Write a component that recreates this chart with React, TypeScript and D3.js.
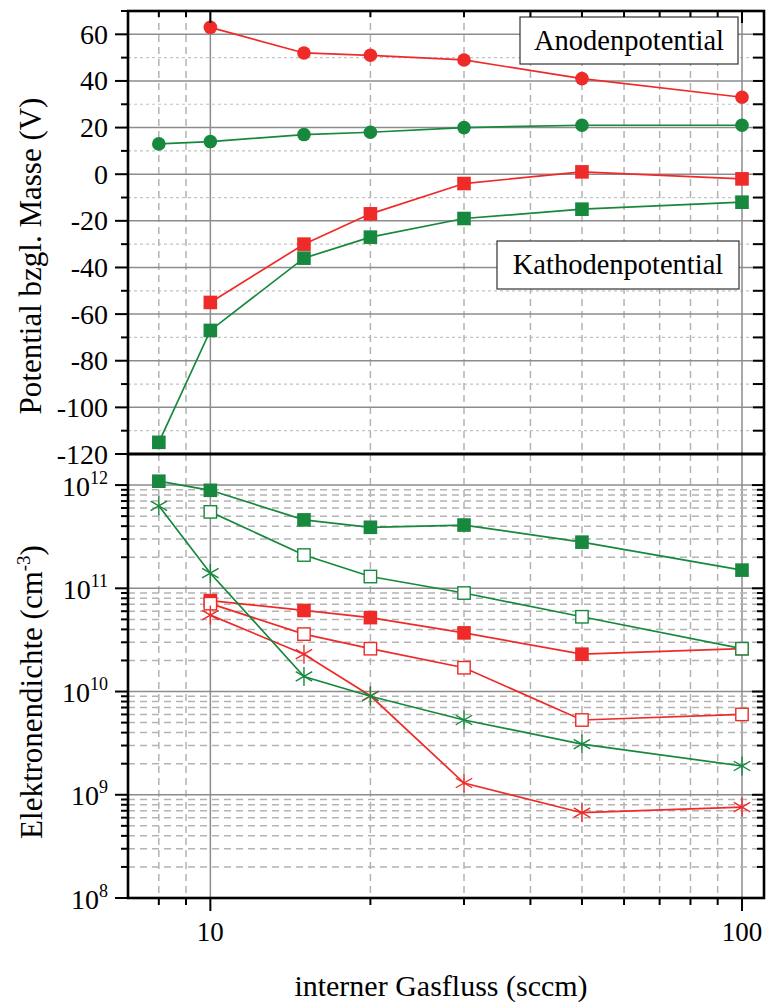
import React from "react";
import * as d3 from "d3";

// Gas flow values (sccm) at which measurements were taken
const flowFrom8 = [8, 10, 15, 20, 30, 50, 100];
const flowFrom10 = [10, 15, 20, 30, 50, 100];

// Potentials relative to ground (V)
const anodeAr = [63, 52, 51, 49, 41, 33]; // red circles, from 10 sccm
const anodeXe = [13, 14, 17, 18, 20, 21, 21]; // green circles, from 8 sccm
const cathodeAr = [-55, -30, -17, -4, 1, -2]; // red squares, from 10 sccm
const cathodeXe = [-115, -67, -36, -27, -19, -15, -12]; // green squares, from 8 sccm

// Electron densities (cm^-3)
const densGreenFilled = [1.09e12, 8.9e11, 4.6e11, 3.9e11, 4.1e11, 2.8e11, 1.5e11]; // from 8
const densGreenOpen = [5.5e11, 2.1e11, 1.3e11, 9.0e10, 5.3e10, 2.6e10]; // from 10
const densGreenStar = [6.3e11, 1.4e11, 1.4e10, 9.0e9, 5.3e9, 3.1e9, 1.9e9]; // from 8
const densRedFilled = [7.6e10, 6.1e10, 5.2e10, 3.7e10, 2.3e10, 2.6e10]; // from 10
const densRedOpen = [7.1e10, 3.6e10, 2.6e10, 1.7e10, 5.3e9, 6.0e9]; // from 10
const densRedStar = [5.5e10, 2.3e10, 9.1e9, 1.3e9, 6.7e8, 7.6e8]; // from 10

// Axis ticks
const xMajor = [10, 100];
const xMinor = [8, 9, 20, 30, 40, 50, 60, 70, 80, 90];
const potMajor = [-120, -100, -80, -60, -40, -20, 0, 20, 40, 60];
const potMinor = [-110, -90, -70, -50, -30, -10, 10, 30, 50];
const densDecades = [8, 9, 10, 11, 12];
const densMinorFactors = [2, 3, 4, 5, 6, 7, 8, 9];

const RED = "#ee2b28";
const GREEN = "#17883d";
const FONT = "Liberation Serif, DejaVu Serif, serif";

const W = 766;
const H = 1005;
const L = 128;
const R = 764;
const TOP_A = 11;
const MID = 454;
const BOT_B = 898;

const x = d3.scaleLog().domain([7, 110]).range([L, R]);
const yPot = d3.scaleLinear().domain([-120, 70]).range([MID, TOP_A]);
const yDens = d3.scaleLog().domain([1e8, 2e12]).range([BOT_B, MID]);

type Marker = "circle" | "square" | "openSquare" | "star";

function Series({
  xs,
  ys,
  y,
  color,
  marker,
}: {
  xs: number[];
  ys: number[];
  y: (v: number) => number;
  color: string;
  marker: Marker;
}) {
  const pts: [number, number][] = xs.map((f, i) => [x(f), y(ys[i])]);
  const path = d3.line()(pts) || "";
  return (
    <g>
      <path d={path} fill="none" stroke={color} strokeWidth={1.7} />
      {pts.map(([px, py], i) => {
        if (marker === "circle")
          return <circle key={i} cx={px} cy={py} r={6.8} fill={color} />;
        if (marker === "square")
          return <rect key={i} x={px - 6.8} y={py - 6.8} width={13.6} height={13.6} fill={color} />;
        if (marker === "openSquare")
          return (
            <rect
              key={i}
              x={px - 6.2}
              y={py - 6.2}
              width={12.4}
              height={12.4}
              fill="#fff"
              stroke={color}
              strokeWidth={1.4}
            />
          );
        const r = 9.5;
        const arms = [90, 30, -30].map((a) => {
          const rad = (a * Math.PI) / 180;
          const dx = r * Math.cos(rad);
          const dy = r * Math.sin(rad);
          return `M${px - dx},${py - dy}L${px + dx},${py + dy}`;
        });
        return <path key={i} d={arms.join("")} stroke={color} strokeWidth={1.4} fill="none" />;
      })}
    </g>
  );
}

function VerticalGrid({ y0, y1 }: { y0: number; y1: number }) {
  return (
    <g>
      {xMinor.map((v) => (
        <line
          key={"vm" + v}
          x1={x(v)}
          x2={x(v)}
          y1={y0}
          y2={y1}
          stroke="#b3b3b3"
          strokeWidth={1.5}
          strokeDasharray="7,5"
        />
      ))}
      {xMajor.map((v) => (
        <line key={"vM" + v} x1={x(v)} x2={x(v)} y1={y0} y2={y1} stroke="#8c8c8c" strokeWidth={1.5} />
      ))}
    </g>
  );
}

function XTicks({ yAxis, dir, major, minor }: { yAxis: number; dir: number; major: number; minor: number }) {
  return (
    <g stroke="#000" strokeWidth={2}>
      {xMinor.map((v) => (
        <line key={"tm" + v} x1={x(v)} x2={x(v)} y1={yAxis} y2={yAxis + dir * minor} />
      ))}
      {xMajor.map((v) => (
        <line key={"tM" + v} x1={x(v)} x2={x(v)} y1={yAxis} y2={yAxis + dir * major} />
      ))}
    </g>
  );
}

export default function App() {
  const densMinor: number[] = [];
  densDecades.forEach((d) => {
    if (d < 12) densMinorFactors.forEach((k) => densMinor.push(k * Math.pow(10, d)));
  });
  const densMajor = densDecades.map((d) => Math.pow(10, d));

  return (
    <svg
      width={W}
      height={H}
      style={{ position: "absolute", left: 0, top: 0, display: "block", background: "#fff", fontFamily: FONT }}
    >
      <rect x={0} y={0} width={W} height={H} fill="#fff" />

      {/* ---------- upper panel: potentials ---------- */}
      {potMinor.map((v) => (
        <line
          key={"pm" + v}
          x1={L}
          x2={R}
          y1={yPot(v)}
          y2={yPot(v)}
          stroke="#c4c4c4"
          strokeWidth={1.2}
          strokeDasharray="3,3"
        />
      ))}
      <VerticalGrid y0={TOP_A} y1={MID} />
      {potMajor
        .filter((v) => v > -120)
        .map((v) => (
          <line key={"pM" + v} x1={L} x2={R} y1={yPot(v)} y2={yPot(v)} stroke="#8c8c8c" strokeWidth={1.5} />
        ))}

      <Series xs={flowFrom10} ys={anodeAr} y={yPot} color={RED} marker="circle" />
      <Series xs={flowFrom8} ys={anodeXe} y={yPot} color={GREEN} marker="circle" />
      <Series xs={flowFrom10} ys={cathodeAr} y={yPot} color={RED} marker="square" />
      <Series xs={flowFrom8} ys={cathodeXe} y={yPot} color={GREEN} marker="square" />

      {/* labels inside the upper panel */}
      <rect x={520} y={17} width={218} height={47} fill="#fff" stroke="#333" strokeWidth={1.2} />
      <text x={629} y={50} fontSize={28.5} textAnchor="middle">
        Anodenpotential
      </text>
      <rect x={497} y={241} width={242} height={48} fill="#fff" stroke="#333" strokeWidth={1.2} />
      <text x={618} y={274} fontSize={28.5} textAnchor="middle">
        Kathodenpotential
      </text>

      {/* upper panel axes ticks */}
      <g stroke="#000" strokeWidth={2}>
        {potMajor.map((v) => (
          <line key={"lt" + v} x1={L - 13} x2={L} y1={yPot(v)} y2={yPot(v)} />
        ))}
        {potMinor.concat([70]).map((v) => (
          <line key={"ltm" + v} x1={L - 7} x2={L} y1={yPot(v)} y2={yPot(v)} />
        ))}
        {potMajor.concat(potMinor).map((v) => (
          <line key={"rt" + v} x1={R - 11} x2={R} y1={yPot(v)} y2={yPot(v)} />
        ))}
      </g>
      <XTicks yAxis={TOP_A} dir={1} major={12} minor={6} />

      {potMajor.map((v) => (
        <text key={"pl" + v} x={108} y={yPot(v) + 9.5} fontSize={28} textAnchor="end">
          {v}
        </text>
      ))}

      {/* ---------- lower panel: electron density ---------- */}
      <VerticalGrid y0={MID} y1={BOT_B} />
      {densMinor.map((v) => (
        <line
          key={"dm" + v}
          x1={L}
          x2={R}
          y1={yDens(v)}
          y2={yDens(v)}
          stroke="#b3b3b3"
          strokeWidth={1.5}
          strokeDasharray="7,5"
        />
      ))}
      {densMajor
        .filter((v) => v > 1e8)
        .map((v) => (
          <line key={"dM" + v} x1={L} x2={R} y1={yDens(v)} y2={yDens(v)} stroke="#8c8c8c" strokeWidth={1.5} />
        ))}

      <Series xs={flowFrom10} ys={densRedFilled} y={yDens} color={RED} marker="square" />
      <Series xs={flowFrom10} ys={densRedOpen} y={yDens} color={RED} marker="openSquare" />
      <Series xs={flowFrom10} ys={densRedStar} y={yDens} color={RED} marker="star" />
      <Series xs={flowFrom8} ys={densGreenFilled} y={yDens} color={GREEN} marker="square" />
      <Series xs={flowFrom10} ys={densGreenOpen} y={yDens} color={GREEN} marker="openSquare" />
      <Series xs={flowFrom8} ys={densGreenStar} y={yDens} color={GREEN} marker="star" />

      <g stroke="#000" strokeWidth={2}>
        {densMajor.map((v) => (
          <line key={"dlt" + v} x1={L - 13} x2={L} y1={yDens(v)} y2={yDens(v)} />
        ))}
        {densMinor.map((v) => (
          <line key={"dltm" + v} x1={L - 7} x2={L} y1={yDens(v)} y2={yDens(v)} />
        ))}
        {densMajor.map((v) => (
          <line key={"drt" + v} x1={R - 12} x2={R} y1={yDens(v)} y2={yDens(v)} />
        ))}
        {densMinor.map((v) => (
          <line key={"drtm" + v} x1={R - 7} x2={R} y1={yDens(v)} y2={yDens(v)} />
        ))}
      </g>
      <XTicks yAxis={BOT_B} dir={1} major={13} minor={7} />

      {densDecades.map((d) => (
        <text key={"dl" + d} x={108} y={yDens(Math.pow(10, d)) + 10.5} fontSize={28} textAnchor="end">
          <tspan>10</tspan>
          <tspan dy={-12} fontSize={18}>
            {d}
          </tspan>
        </text>
      ))}

      {xMajor.map((v) => (
        <text key={"xl" + v} x={x(v)} y={941} fontSize={27} textAnchor="middle">
          {v}
        </text>
      ))}

      {/* frames */}
      <rect x={L} y={TOP_A} width={R - L} height={MID - TOP_A} fill="none" stroke="#000" strokeWidth={2.6} />
      <rect x={L} y={MID} width={R - L} height={BOT_B - MID} fill="none" stroke="#000" strokeWidth={2.6} />

      {/* axis titles */}
      <text transform="translate(41,256) rotate(-90)" fontSize={31} textAnchor="middle">
        Potential bzgl. Masse (V)
      </text>
      <text transform="translate(42,692) rotate(-90)" fontSize={31} textAnchor="middle">
        <tspan>Elektronendichte (cm</tspan>
        <tspan dy={-12} fontSize={19}>
          -3
        </tspan>
        <tspan dy={12}>)</tspan>
      </text>
      <text x={441} y={996} fontSize={30} textAnchor="middle">
        interner Gasfluss (sccm)
      </text>
    </svg>
  );
}
